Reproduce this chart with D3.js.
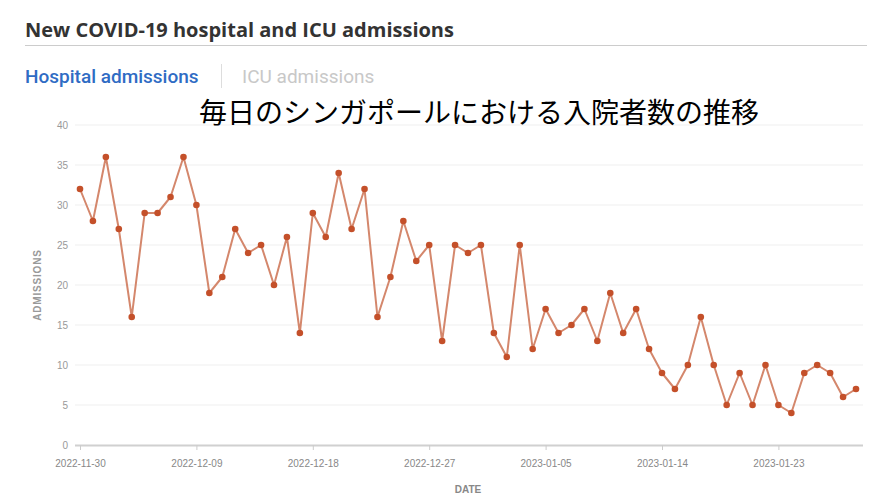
<!DOCTYPE html>
<html>
<head>
<meta charset="utf-8">
<script src="https://cdn.jsdelivr.net/npm/d3@7"></script>
<style>
  body { margin: 0; background: #fff; }
  svg { display: block; }
</style>
</head>
<body>
<div id="chart"></div>
<script>
let startDate = "2022-11-30"
let admissions = [32, 28, 36, 27, 16, 29, 29, 31, 36, 30,
  19, 21, 27, 24, 25, 20, 26, 14, 29, 26,
  34, 27, 32, 16, 21, 28, 23, 25, 13, 25,
  24, 25, 14, 11, 25, 12, 17, 14, 15, 17,
  13, 19, 14, 17, 12, 9, 7, 10, 16, 10,
  5, 9, 5, 10, 5, 4, 9, 10, 9, 6, 7]
let yTicks = [0, 5, 10, 15, 20, 25, 30, 35, 40]
let xTickLabels = ["2022-11-30", "2022-12-09", "2022-12-18", "2022-12-27", "2023-01-05", "2023-01-14", "2023-01-23"]

let parse = d3.utcParse("%Y-%m-%d")
let fmt = d3.utcFormat("%Y-%m-%d")
let start = parse(startDate)
let data = admissions.map((v, i) => ({date: d3.utcDay.offset(start, i), value: v}))

let W = 872, H = 498
let margin = {top: 125, right: 10, bottom: 53, left: 75}
let width = W - margin.left - margin.right
let height = H - margin.top - margin.bottom

let svg = d3.select("#chart")
    .append("svg")
    .attr("width", W)
    .attr("height", H)

// header
svg.append("text")
    .attr("x", 25).attr("y", 37)
    .style("font-family", "'Open Sans', sans-serif")
    .style("font-weight", 700)
    .style("font-size", "20px")
    .attr("fill", "#333")
    .text("New COVID-19 hospital and ICU admissions")
svg.append("line")
    .attr("x1", 25).attr("x2", 867).attr("y1", 45.5).attr("y2", 45.5)
    .attr("stroke", "#ccc")

svg.append("text")
    .attr("x", 25).attr("y", 83)
    .style("font-family", "Roboto, sans-serif")
    .style("font-weight", 500)
    .style("font-size", "19px")
    .attr("fill", "#2f6cc4")
    .text("Hospital admissions")
svg.append("line")
    .attr("x1", 221.5).attr("x2", 221.5).attr("y1", 64).attr("y2", 88)
    .attr("stroke", "#ddd")
svg.append("text")
    .attr("x", 242).attr("y", 83)
    .style("font-family", "Roboto, sans-serif")
    .style("font-size", "19px")
    .attr("fill", "#c8c8c8")
    .text("ICU admissions")

let g = svg.append("g")
    .attr("transform", "translate(" + margin.left + "," + margin.top + ")")

let x = d3.scaleUtc()
    .domain([start, d3.utcDay.offset(start, 60)])
    .range([5, 781])

let y = d3.scaleLinear()
    .domain([0, 40])
    .range([height, 0])

// gridlines
g.append("g")
    .selectAll("line")
    .data(yTicks.filter(d => d > 0))
    .enter()
    .append("line")
    .attr("x1", 0).attr("x2", 788)
    .attr("y1", d => y(d)).attr("y2", d => y(d))
    .attr("stroke", "#efefef")

// y axis
let yAxis = g.append("g")
    .call(d3.axisLeft(y).tickValues(yTicks).tickSize(0).tickPadding(7))
yAxis.select(".domain").remove()
yAxis.selectAll("text")
    .style("font-family", "'Liberation Sans Narrow', 'Liberation Sans', sans-serif")
    .style("font-size", "10px")
    .attr("fill", "#999")

// x axis
let xAxis = g.append("g")
    .attr("transform", "translate(0," + height + ")")
    .call(d3.axisBottom(x)
        .tickValues(xTickLabels.map(parse))
        .tickFormat(fmt)
        .tickSizeOuter(0)
        .tickSize(5)
        .tickPadding(10))
xAxis.select(".domain")
    .attr("d", "M0,0.5H788")
    .attr("stroke", "#d0d0d0")
    .attr("stroke-width", 2)
xAxis.selectAll(".tick line").attr("stroke", "#ccc")
xAxis.selectAll("text")
    .style("font-family", "'Liberation Sans Narrow', 'Liberation Sans', sans-serif")
    .style("font-size", "10px")
    .attr("fill", "#888")

// axis titles
svg.append("text")
    .attr("transform", "translate(41,285)rotate(-90)")
    .attr("text-anchor", "middle")
    .style("font-family", "'Liberation Sans', sans-serif")
    .style("font-weight", 700)
    .style("font-size", "10px")
    .style("letter-spacing", "0.8px")
    .attr("fill", "#999")
    .text("ADMISSIONS")
svg.append("text")
    .attr("x", 468).attr("y", 493)
    .attr("text-anchor", "middle")
    .style("font-family", "'Liberation Sans Narrow', 'Liberation Sans', sans-serif")
    .style("font-weight", 700)
    .style("font-size", "10px")
    .attr("fill", "#888")
    .text("DATE")

// line
let line = d3.line()
    .x(d => x(d.date))
    .y(d => y(d.value))

g.append("path")
    .datum(data)
    .attr("fill", "none")
    .attr("stroke", "#d4876c")
    .attr("stroke-width", 2)
    .attr("stroke-linejoin", "round")
    .attr("d", line)

g.selectAll(".dot")
    .data(data)
    .enter()
    .append("circle")
    .attr("class", "dot")
    .attr("cx", d => x(d.date))
    .attr("cy", d => y(d.value))
    .attr("r", 3.3)
    .attr("fill", "#c4502a")

// annotation
svg.append("text")
    .attr("x", 199).attr("y", 123)
    .style("font-family", "'Noto Sans CJK JP', sans-serif")
    .style("font-size", "28px")
    .attr("fill", "#000")
    .text("毎日のシンガポールにおける入院者数の推移")
</script>
</body>
</html>
